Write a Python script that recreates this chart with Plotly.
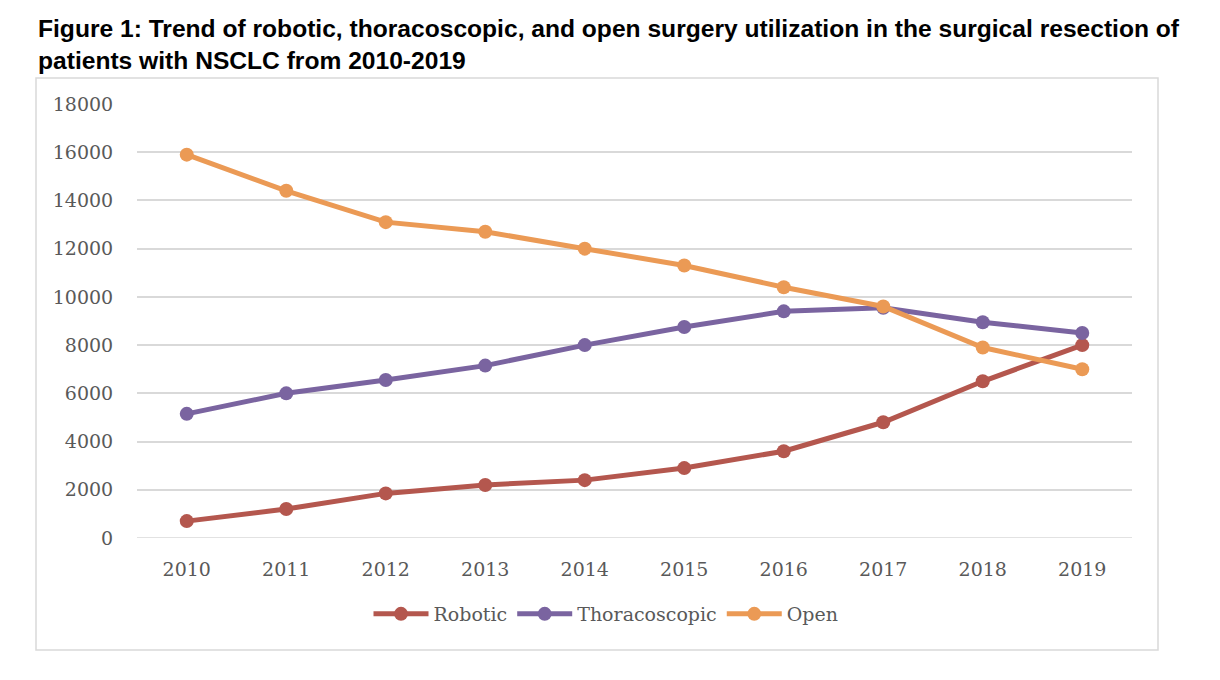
import plotly.graph_objects as go

years = ["2010", "2011", "2012", "2013", "2014", "2015", "2016", "2017", "2018", "2019"]
robotic = [700, 1200, 1850, 2200, 2400, 2900, 3600, 4800, 6500, 8000]
thoracoscopic = [5150, 6000, 6550, 7150, 8000, 8750, 9400, 9550, 8950, 8500]
open_surgery = [15900, 14400, 13100, 12700, 12000, 11300, 10400, 9600, 7900, 7000]
y_ticks = [0, 2000, 4000, 6000, 8000, 10000, 12000, 14000, 16000, 18000]

series = [
    ("Robotic", robotic, "#B4574E"),
    ("Thoracoscopic", thoracoscopic, "#7A64A0"),
    ("Open", open_surgery, "#EB9A55"),
]

OFF = 8  # page body margin
W, H = 1220 - OFF, 680 - OFF
L, R, T, B = 137 - OFF, 1132 - OFF, 104 - OFF, 538 - OFF

fig = go.Figure()
for name, vals, color in series:
    fig.add_trace(go.Scatter(
        x=years, y=vals, name=name, mode="lines+markers",
        line=dict(color=color, width=5),
        marker=dict(color=color, size=14),
    ))

def px(x):
    return (x - OFF - L) / (R - L)

def py(y):
    return (B - (y - OFF)) / (B - T)

tick_font = dict(family="DejaVu Serif", size=19, color="#595959")

fig.update_layout(
    width=W, height=H,
    margin=dict(l=L, r=W - R, t=T, b=H - B, pad=0),
    paper_bgcolor="white", plot_bgcolor="white",
    showlegend=True,
    legend=dict(
        orientation="h", x=px(606), y=py(614), xanchor="center", yanchor="middle",
        font=dict(family="DejaVu Serif", size=19, color="#595959"),
        itemwidth=55, tracegroupgap=0,
    ),
    xaxis=dict(
        type="category", showgrid=False, zeroline=False, showline=False,
        tickfont=tick_font, ticks="outside", ticklen=14, tickcolor="rgba(0,0,0,0)",
        range=[-0.5, 9.5], fixedrange=True,
    ),
    yaxis=dict(
        range=[0, 18000], tickvals=y_ticks, ticktext=[str(v) for v in y_ticks],
        showgrid=True, gridcolor="#D9D9D9", gridwidth=1.5, zeroline=False,
        showline=False, tickfont=tick_font, ticks="outside", ticklen=19,
        tickcolor="rgba(0,0,0,0)", fixedrange=True,
    ),
    shapes=[
        dict(type="line", xref="paper", yref="y", x0=0, x1=1, y0=0, y1=0,
             line=dict(color="#D9D9D9", width=1.5), layer="below"),
        dict(type="rect", xref="paper", yref="paper",
             x0=px(36), x1=px(1158), y0=py(650), y1=py(78),
             line=dict(color="#D9D9D9", width=1.5), fillcolor="rgba(0,0,0,0)"),
    ],
    annotations=[
        dict(xref="paper", yref="paper", x=px(36), y=py(28), xanchor="left", yanchor="middle",
             showarrow=False,
             text="<b>Figure 1: Trend of robotic, thoracoscopic, and open surgery utilization in the surgical resection of</b>",
             font=dict(family="Liberation Sans", size=24.6, color="black")),
        dict(xref="paper", yref="paper", x=px(36), y=py(60), xanchor="left", yanchor="middle",
             showarrow=False,
             text="<b>patients with NSCLC from 2010-2019</b>",
             font=dict(family="Liberation Sans", size=24.6, color="black")),
    ],
)

fig.write_html("out.html")
